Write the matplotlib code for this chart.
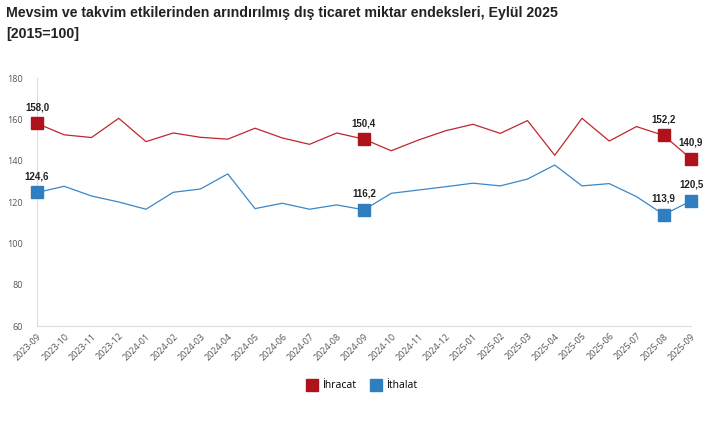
import matplotlib.pyplot as plt

months = ["2023-09", "2023-10", "2023-11", "2023-12", "2024-01", "2024-02", "2024-03",
          "2024-04", "2024-05", "2024-06", "2024-07", "2024-08", "2024-09", "2024-10",
          "2024-11", "2024-12", "2025-01", "2025-02", "2025-03", "2025-04", "2025-05",
          "2025-06", "2025-07", "2025-08", "2025-09"]
ihracat = [158.0, 152.5, 151.2, 160.5, 149.2, 153.4, 151.3, 150.4, 155.7, 151.0, 147.9,
           153.4, 150.4, 144.8, 150.0, 154.5, 157.6, 153.2, 159.4, 142.6, 160.5, 149.5,
           156.5, 152.2, 140.9]
ithalat = [124.6, 127.6, 122.9, 120.0, 116.5, 124.7, 126.3, 133.6, 116.8, 119.4, 116.5,
           118.6, 116.2, 124.2, 125.8, 127.4, 129.1, 127.8, 131.1, 137.9, 127.8, 128.9,
           122.6, 113.9, 120.5]
marked = [0, 12, 23, 24]

plt.rcParams['font.family'] = ['Open Sans', 'DejaVu Sans']

red = '#B0121B'
blue = '#2F7EC0'

fig = plt.figure(figsize=(7.25, 4.37), dpi=100)
ax = fig.add_axes([37 / 725, 1 - 326 / 437, (691 - 37) / 725, (326 - 78) / 437])

x = list(range(len(months)))
ax.plot(x, ihracat, color='#C0272D', lw=0.9, zorder=3)
ax.plot(x, ithalat, color='#3A87C8', lw=0.9, zorder=3)
ax.plot(marked, [ihracat[i] for i in marked], 's', color=red, ms=8.5, ls='none',
        label='İhracat', zorder=5)
ax.plot(marked, [ithalat[i] for i in marked], 's', color=blue, ms=8.5, ls='none',
        label='İthalat', zorder=5)

for series in (ihracat, ithalat):
    for i in marked:
        ax.annotate(f"{series[i]:.1f}".replace('.', ','), (i, series[i]),
                    xytext=(0, 8), textcoords='offset points', ha='center', va='bottom',
                    fontsize=7, fontweight='bold', color='#222222',
                    family=['Liberation Sans', 'DejaVu Sans'])

ax.set_xlim(0, len(months) - 1)
ax.set_ylim(60, 180)
ax.set_yticks(range(60, 181, 20))
ax.set_xticks(x)
ax.set_xticklabels(months, rotation=45, ha='right', rotation_mode='anchor')
ax.tick_params(axis='both', length=0, labelsize=6.5, colors='#555555')
ax.tick_params(axis='y', pad=10)
ax.tick_params(axis='x', pad=4)
for s in ['top', 'right']:
    ax.spines[s].set_visible(False)
ax.spines['left'].set_color('#DDDDDD')
ax.spines['bottom'].set_color('#DDDDDD')
for line in ax.lines:
    line.set_clip_on(False)

title_font = ['Liberation Sans', 'DejaVu Sans']
fig.text(6 / 725, 1 - 13 / 437, "Mevsim ve takvim etkilerinden arındırılmış dış ticaret miktar endeksleri, Eylül 2025",
         fontsize=10.2, fontweight='bold', va='center', color='#222222', family=title_font)
fig.text(6 / 725, 1 - 34 / 437, "[2015=100]", fontsize=10.2, fontweight='bold', va='center',
         color='#222222', family=title_font)

fig.legend(loc='center', bbox_to_anchor=(362 / 725, 1 - 386 / 437), ncol=2, frameon=False,
           fontsize=7.5, handlelength=1, handletextpad=0.4, columnspacing=1.5, markerscale=1.0)

fig.savefig('out.png', dpi=100)
